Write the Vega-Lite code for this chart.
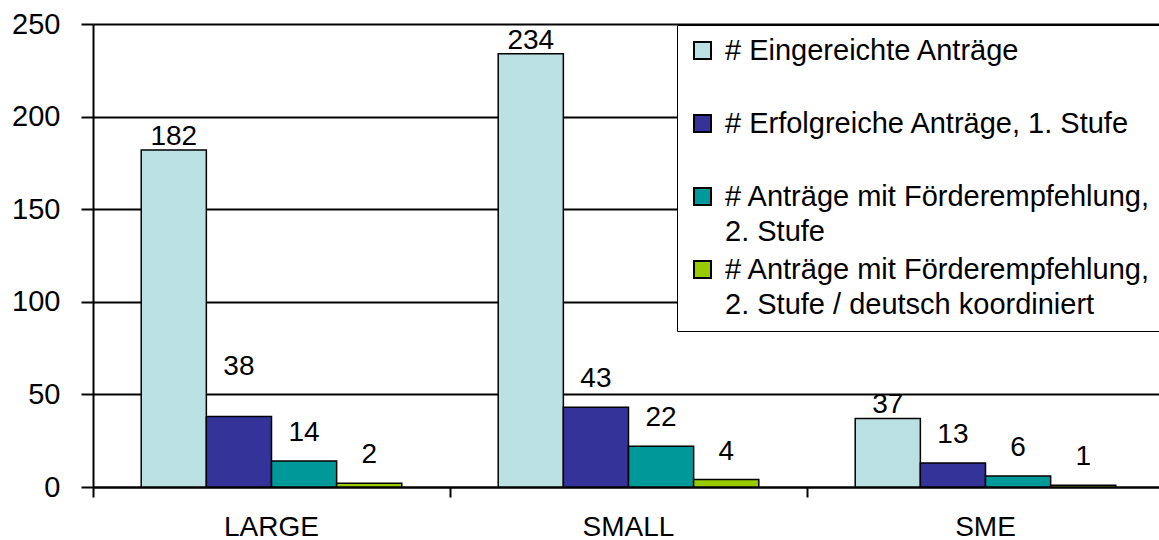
{
  "$schema": "https://vega.github.io/schema/vega-lite/v6.json",
  "width": 1071,
  "height": 463,
  "padding": {"left": 11, "top": 10, "right": 0, "bottom": 0},
  "background": "white",
  "data": {
    "values": [
      {"kategorie": "LARGE", "serie": "# Eingereichte Anträge", "anzahl": 182},
      {"kategorie": "LARGE", "serie": "# Erfolgreiche Anträge, 1. Stufe", "anzahl": 38},
      {"kategorie": "LARGE", "serie": "# Anträge mit Förderempfehlung, 2. Stufe", "anzahl": 14},
      {"kategorie": "LARGE", "serie": "# Anträge mit Förderempfehlung, 2. Stufe / deutsch koordiniert", "anzahl": 2},
      {"kategorie": "SMALL", "serie": "# Eingereichte Anträge", "anzahl": 234},
      {"kategorie": "SMALL", "serie": "# Erfolgreiche Anträge, 1. Stufe", "anzahl": 43},
      {"kategorie": "SMALL", "serie": "# Anträge mit Förderempfehlung, 2. Stufe", "anzahl": 22},
      {"kategorie": "SMALL", "serie": "# Anträge mit Förderempfehlung, 2. Stufe / deutsch koordiniert", "anzahl": 4},
      {"kategorie": "SME", "serie": "# Eingereichte Anträge", "anzahl": 37},
      {"kategorie": "SME", "serie": "# Erfolgreiche Anträge, 1. Stufe", "anzahl": 13},
      {"kategorie": "SME", "serie": "# Anträge mit Förderempfehlung, 2. Stufe", "anzahl": 6},
      {"kategorie": "SME", "serie": "# Anträge mit Förderempfehlung, 2. Stufe / deutsch koordiniert", "anzahl": 1}
    ]
  },
  "encoding": {
    "x": {
      "field": "kategorie",
      "type": "nominal",
      "sort": ["LARGE", "SMALL", "SME"],
      "scale": {"paddingInner": 0, "paddingOuter": 0},
      "axis": {
        "title": null,
        "labelAngle": 0,
        "bandPosition": 0,
        "domainColor": "black",
        "domainWidth": 2,
        "tickColor": "black",
        "tickWidth": 2,
        "tickSize": 10,
        "labelPadding": 16,
        "labelFont": "Liberation Sans",
        "labelFontSize": 28,
        "labelColor": "black",
        "grid": false
      }
    },
    "xOffset": {
      "field": "serie",
      "type": "nominal",
      "sort": [
        "# Eingereichte Anträge",
        "# Erfolgreiche Anträge, 1. Stufe",
        "# Anträge mit Förderempfehlung, 2. Stufe",
        "# Anträge mit Förderempfehlung, 2. Stufe / deutsch koordiniert"
      ],
      "scale": {"paddingInner": 0, "paddingOuter": 0.74}
    },
    "y": {
      "field": "anzahl",
      "type": "quantitative",
      "scale": {"domain": [0, 250], "nice": false},
      "axis": {
        "title": null,
        "values": [0, 50, 100, 150, 200, 250],
        "domainColor": "black",
        "domainWidth": 2,
        "tickColor": "black",
        "tickWidth": 2,
        "tickSize": 12,
        "labelPadding": 21,
        "labelFont": "Liberation Sans",
        "labelFontSize": 29,
        "labelColor": "black",
        "grid": true,
        "gridColor": "black",
        "gridWidth": 2,
        "gridOpacity": 1
      }
    }
  },
  "layer": [
    {
      "mark": {"type": "bar", "stroke": "black", "strokeWidth": 1.5},
      "encoding": {
        "color": {
          "field": "serie",
          "type": "nominal",
          "scale": {
            "domain": [
              "# Eingereichte Anträge",
              "# Erfolgreiche Anträge, 1. Stufe",
              "# Anträge mit Förderempfehlung, 2. Stufe",
              "# Anträge mit Förderempfehlung, 2. Stufe / deutsch koordiniert"
            ],
            "range": ["#BBE0E3", "#333399", "#009999", "#99CC00"]
          },
          "legend": {
            "title": null,
            "orient": "none",
            "legendX": 584,
            "legendY": 1,
            "direction": "vertical",
            "fillColor": "white",
            "strokeColor": "black",
            "padding": 11,
            "symbolType": "square",
            "symbolSize": 289,
            "symbolStrokeColor": "black",
            "symbolStrokeWidth": 2,
            "symbolOpacity": 1,
            "labelFont": "Liberation Sans",
            "labelFontSize": 29,
            "labelColor": "black",
            "labelLimit": 600,
            "labelOffset": 8,
            "labelBaseline": "middle",
            "gridAlign": "all",
            "rowPadding": 8,
            "labelExpr": "split(replace(datum.label, ', 2. ', ',|2. '), '|')"
          }
        }
      }
    },
    {
      "transform": [{"filter": "datum.serie === '# Eingereichte Anträge'"}],
      "mark": {"type": "text", "baseline": "alphabetic", "dy": -5, "font": "Liberation Sans", "fontSize": 28, "color": "black"},
      "encoding": {"text": {"field": "anzahl", "type": "quantitative"}}
    },
    {
      "transform": [{"filter": "datum.serie !== '# Eingereichte Anträge' && datum.anzahl !== 38"}],
      "mark": {"type": "text", "baseline": "alphabetic", "dy": -20, "font": "Liberation Sans", "fontSize": 28, "color": "black"},
      "encoding": {"text": {"field": "anzahl", "type": "quantitative"}}
    },
    {
      "transform": [{"filter": "datum.anzahl === 38"}],
      "mark": {"type": "text", "baseline": "alphabetic", "dy": -42, "font": "Liberation Sans", "fontSize": 28, "color": "black"},
      "encoding": {"text": {"field": "anzahl", "type": "quantitative"}}
    }
  ],
  "config": {
    "view": {"stroke": null},
    "style": {"guide-label": {"lineHeight": 35}}
  }
}
